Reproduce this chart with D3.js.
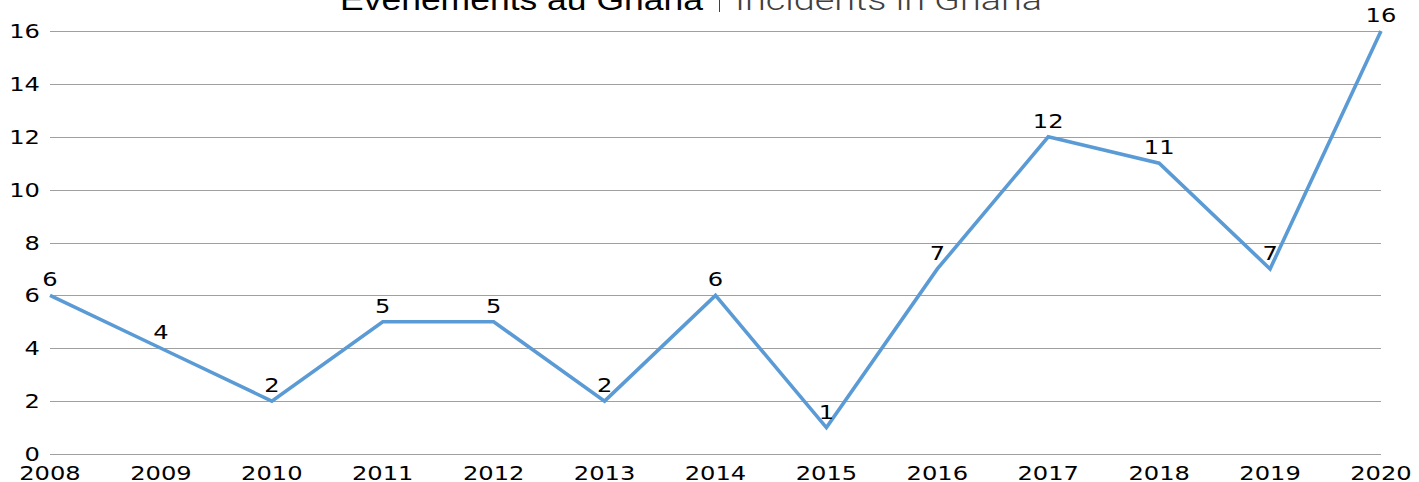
<!DOCTYPE html>
<html>
<head>
<meta charset="utf-8">
<script src="https://cdn.jsdelivr.net/npm/d3@7"></script>
<style>
  body { margin: 0; background: #fff; }
  svg { display: block; }
</style>
</head>
<body>
<div class="graph"></div>
<script>
// data
var years = ["2008", "2009", "2010", "2011", "2012", "2013", "2014", "2015", "2016", "2017", "2018", "2019", "2020"];
var incidents = [6, 4, 2, 5, 5, 2, 6, 1, 7, 12, 11, 7, 16];
var yTicks = [0, 2, 4, 6, 8, 10, 12, 14, 16];
var titleMain = "Evénements au Ghana";
var titleSub = "Incidents in Ghana";

var width = 1419,
    height = 482;

var svg = d3.select("div.graph").append("svg")
    .attr("width", width)
    .attr("height", height);

// set the ranges
var x = d3.scalePoint().domain(years).range([50, 1381]);
var y = d3.scaleLinear().domain([0, 16]).range([454, 31]);

var numFont = "'DejaVu Sans', sans-serif",
    stretch = 1.24; // the original labels are drawn wide

// little helper: stretched text anchored at (px, py)
var wideText = function(g, px, py, str, anchor) {
  return g.append("text")
      .attr("transform", "translate(" + px + "," + py + ") scale(" + stretch + ",1)")
      .attr("text-anchor", anchor)
      .style("font-family", numFont)
      .style("font-size", "19.5px")
      .style("fill", "#000")
      .text(str);
};

// gridlines
svg.append("g")
    .selectAll("line")
    .data(yTicks)
    .enter().append("line")
      .attr("x1", x.range()[0])
      .attr("x2", x.range()[1])
      .attr("y1", function(d) { return Math.round(y(d)) + 0.5; })
      .attr("y2", function(d) { return Math.round(y(d)) + 0.5; })
      .style("stroke", "#a0a0a0")
      .style("stroke-width", 1);

// y axis labels
var yAxis = svg.append("g").attr("class", "y-axis");
yTicks.forEach(function(t) {
  wideText(yAxis, 40, y(t) + 7, String(t), "end");
});

// x axis labels
var xAxis = svg.append("g").attr("class", "x-axis");
years.forEach(function(yr) {
  wideText(xAxis, x(yr), 480, yr, "middle");
});

// the line
var line = d3.line()
    .x(function(d, i) { return x(years[i]); })
    .y(function(d) { return y(d); });

svg.append("path")
    .datum(incidents)
    .attr("d", line)
    .style("fill", "none")
    .style("stroke", "#5b9bd5")
    .style("stroke-width", 3.6)
    .style("stroke-linejoin", "miter");

// data labels
var labels = svg.append("g").attr("class", "labels");
incidents.forEach(function(v, i) {
  wideText(labels, x(years[i]), y(v) - 9, String(v), "middle");
});

// title (cut at the top like the original)
svg.append("text")
    .attr("x", 340)
    .attr("y", 10)
    .attr("textLength", 363)
    .attr("lengthAdjust", "spacingAndGlyphs")
    .style("font-family", "'Liberation Sans', Arial, sans-serif")
    .style("font-size", "29px")
    .style("fill", "#000")
    .text(titleMain);

svg.append("line")
    .attr("x1", 719.5).attr("x2", 719.5)
    .attr("y1", 0).attr("y2", 12)
    .style("stroke", "#404040")
    .style("stroke-width", 1);

svg.append("text")
    .attr("x", 735)
    .attr("y", 10)
    .attr("textLength", 307)
    .attr("lengthAdjust", "spacingAndGlyphs")
    .style("font-family", "Roboto, 'Open Sans', sans-serif")
    .style("font-weight", 300)
    .style("font-size", "29px")
    .style("fill", "#404040")
    .text(titleSub);
</script>
</body>
</html>
